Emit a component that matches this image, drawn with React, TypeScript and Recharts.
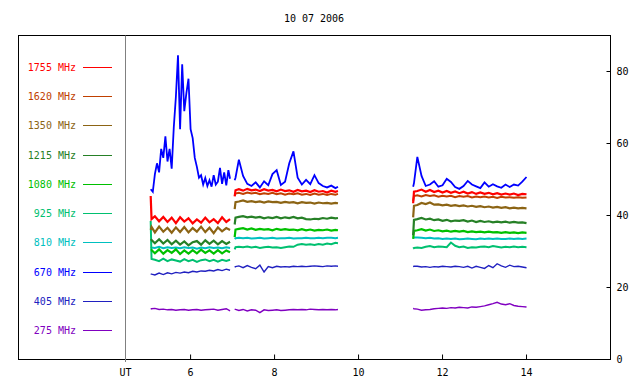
import React from 'react';
import { LineChart, Line, XAxis, YAxis, Legend } from 'recharts';

const TITLE = '10 07 2006';
const NAMES = ['1755 MHz', '1620 MHz', '1350 MHz', '1215 MHz', '1080 MHz', '925 MHz', '810 MHz', '670 MHz', '405 MHz', '275 MHz'];
const COLORS = ['#ff0000', '#c04000', '#8c6414', '#268026', '#00c000', '#00c070', '#00c0c0', '#0000ff', '#2020c0', '#8000c0'];
const X_TICKS = [4.45, 6, 8, 10, 12, 14];
const X_TICK_LABELS = ['UT', '6', '8', '10', '12', '14'];
const TOP_TICKS = [6, 8, 10, 12, 14];
const Y_TICKS = [0, 20, 40, 60, 80];

// time grids (UT hours)
const T1 = [5.05, 5.07, 5.15, 5.25, 5.35, 5.45, 5.55, 5.65, 5.75, 5.85, 5.95, 6.05, 6.15, 6.25, 6.35, 6.45, 6.55, 6.65, 6.75, 6.85, 6.94];
const T2 = [7.05, 7.07, 7.15, 7.25, 7.35, 7.45, 7.55, 7.65, 7.75, 7.85, 7.95, 8.05, 8.15, 8.25, 8.35, 8.45, 8.55, 8.65, 8.75, 8.85, 8.95, 9.05, 9.15, 9.25, 9.35, 9.45, 9.51];
const T3 = [11.3, 11.32, 11.4, 11.5, 11.6, 11.7, 11.8, 11.9, 12.0, 12.1, 12.2, 12.3, 12.4, 12.5, 12.6, 12.7, 12.8, 12.9, 13.0, 13.1, 13.2, 13.3, 13.4, 13.5, 13.6, 13.7, 13.8, 13.9, 14.0];
const BT1 = [5.05, 5.1, 5.15, 5.2, 5.25, 5.3, 5.35, 5.4, 5.45, 5.5, 5.55, 5.6, 5.65, 5.7, 5.75, 5.8, 5.85, 5.9, 5.95, 6.0, 6.05, 6.1, 6.15, 6.2, 6.25, 6.3, 6.35, 6.4, 6.45, 6.5, 6.55, 6.6, 6.65, 6.7, 6.75, 6.8, 6.85, 6.9, 6.94];

// 1755 MHz
const F1755_1 = [45.4, 39.0, 39.8, 38.4, 39.6, 38.2, 39.4, 37.9, 39.5, 38.3, 39.2, 37.8, 38.9, 38.0, 39.4, 38.1, 39.0, 37.9, 39.5, 38.2, 39.0];
const F1755_2 = [45.3, 47.0, 47.3, 46.9, 47.4, 47.0, 47.2, 46.8, 47.3, 46.9, 47.1, 46.7, 47.2, 46.8, 47.0, 46.6, 47.1, 46.7, 46.9, 46.5, 47.0, 46.6, 46.8, 46.4, 46.9, 46.6, 46.8];
const F1755_3 = [43.4, 46.6, 46.8, 47.2, 46.6, 47.1, 46.5, 46.9, 46.4, 46.8, 46.3, 46.7, 46.2, 46.6, 46.1, 46.5, 46.0, 46.4, 46.0, 46.3, 45.9, 46.2, 45.8, 46.1, 45.8, 46.1, 45.7, 46.0, 45.9];
// 1620 MHz
const F1620_2 = [45.5, 46.1, 46.3, 46.0, 46.4, 46.1, 46.3, 45.9, 46.2, 46.0, 46.3, 45.9, 46.2, 45.8, 46.1, 45.9, 46.2, 45.8, 46.0, 45.7, 46.1, 45.8, 46.0, 45.7, 46.0, 45.8, 46.0];
const F1620_3 = [44.0, 45.4, 45.6, 45.3, 45.7, 45.4, 45.6, 45.2, 45.5, 45.3, 45.5, 45.1, 45.4, 45.2, 45.4, 45.0, 45.3, 45.1, 45.3, 45.0, 45.2, 44.9, 45.2, 45.0, 45.1, 44.9, 45.1, 44.9, 45.0];
// 1350 MHz
const F1350_1 = [36.0, 36.8, 35.3, 36.9, 35.5, 36.6, 35.2, 36.7, 35.4, 36.8, 35.3, 36.5, 35.5, 36.9, 35.4, 36.6, 35.1, 36.7, 35.6, 36.5, 36.0];
const F1350_2 = [41.8, 43.7, 43.9, 44.2, 43.8, 44.0, 43.7, 43.9, 43.6, 43.9, 43.7, 43.8, 43.5, 43.8, 43.6, 43.7, 43.4, 43.7, 43.5, 43.6, 43.3, 43.6, 43.4, 43.5, 43.3, 43.5, 43.4];
const F1350_3 = [39.5, 42.7, 42.9, 43.5, 43.2, 43.6, 43.0, 43.1, 42.8, 43.0, 42.7, 42.9, 42.6, 42.8, 42.5, 42.7, 42.4, 42.6, 42.3, 42.5, 42.2, 42.4, 42.1, 42.3, 42.0, 42.2, 42.0, 42.1, 42.0];
// 1215 MHz
const F1215_1 = [33.0, 33.2, 32.3, 33.4, 32.2, 33.2, 32.0, 33.0, 31.9, 32.8, 31.7, 32.6, 32.9, 31.9, 33.1, 32.1, 33.0, 32.0, 32.9, 32.1, 32.7];
const F1215_2 = [37.5, 39.4, 39.6, 39.8, 39.5, 39.7, 39.4, 39.6, 39.2, 39.5, 39.3, 39.6, 39.2, 39.5, 39.3, 39.6, 39.2, 39.4, 39.0, 38.9, 39.1, 39.0, 39.3, 39.1, 39.4, 39.2, 39.3];
const F1215_3 = [34.5, 38.8, 39.0, 39.3, 38.9, 39.1, 38.7, 38.9, 38.5, 38.8, 38.4, 38.6, 38.5, 38.7, 38.3, 38.6, 38.2, 38.5, 38.2, 38.4, 38.1, 38.3, 38.1, 38.3, 38.0, 38.2, 38.0, 38.1, 37.9];
// 1080 MHz
const F1080_1 = [30.4, 30.4, 29.5, 30.6, 29.4, 30.4, 29.6, 30.6, 29.3, 30.3, 29.4, 30.4, 29.5, 30.5, 29.6, 30.3, 29.4, 30.4, 29.5, 30.3, 29.8];
const F1080_2 = [34.0, 36.1, 36.3, 36.5, 36.1, 36.4, 36.0, 36.3, 36.1, 36.2, 35.9, 36.3, 36.0, 36.2, 36.0, 36.1, 35.9, 36.2, 35.9, 36.1, 35.8, 36.0, 35.9, 36.1, 35.8, 36.0, 35.9];
const F1080_3 = [33.5, 35.7, 35.9, 36.2, 35.8, 36.1, 35.7, 35.9, 35.6, 35.8, 35.5, 35.7, 35.5, 35.7, 35.4, 35.6, 35.4, 35.5, 35.3, 35.5, 35.3, 35.4, 35.2, 35.4, 35.2, 35.3, 35.1, 35.3, 35.2];
// 925 MHz
const F925_1 = [38.5, 27.9, 27.7, 27.3, 28.0, 27.3, 27.8, 27.5, 27.2, 27.9, 27.3, 27.7, 27.1, 27.6, 27.8, 27.3, 27.7, 27.2, 27.7, 27.4, 27.7];
const F925_2 = [30.6, 31.2, 31.3, 31.2, 31.4, 31.1, 31.3, 31.0, 31.2, 31.3, 31.1, 31.2, 31.0, 31.2, 31.4, 31.3, 31.9, 32.1, 31.9, 32.0, 31.8, 32.1, 31.9, 32.2, 32.0, 32.4, 32.3];
const F925_3 = [30.8, 31.0, 31.1, 31.0, 31.3, 31.5, 31.2, 31.4, 31.3, 31.2, 32.5, 31.6, 31.2, 31.4, 31.0, 31.2, 31.1, 31.3, 31.4, 31.2, 31.5, 31.3, 31.1, 31.3, 31.2, 31.4, 31.2, 31.3, 31.2];
// 810 MHz
const F810_1 = [31.2, 31.1, 31.0, 31.3, 30.9, 31.2, 31.0, 31.1, 30.9, 31.2, 31.0, 31.1, 30.8, 31.1, 30.9, 31.2, 31.0, 31.1, 30.9, 31.2, 31.0];
const F810_2 = [33.5, 33.7, 33.8, 33.7, 33.8, 33.6, 33.7, 33.8, 33.6, 33.7, 33.8, 33.6, 33.7, 33.7, 33.8, 33.6, 33.7, 33.7, 33.8, 33.7, 33.7, 33.8, 33.7, 33.8, 33.8, 33.7, 33.8];
const F810_3 = [34.0, 33.9, 33.9, 33.8, 33.7, 33.8, 33.6, 33.7, 33.5, 33.6, 33.5, 33.6, 33.4, 33.5, 33.6, 33.5, 33.4, 33.6, 33.5, 33.6, 33.5, 33.6, 33.5, 33.5, 33.6, 33.5, 33.6, 33.5, 33.6];
// 670 MHz
const F670_1 = [47.3, 46.6, 51.5, 54.5, 52.0, 58.5, 56.0, 62.0, 55.0, 58.5, 53.0, 64.5, 73.0, 84.5, 64.0, 82.0, 69.0, 74.0, 78.0, 64.0, 61.5, 56.0, 53.5, 50.5, 51.2, 48.6, 50.4, 48.2, 49.8, 48.0, 51.2, 48.6, 49.4, 53.2, 48.8, 52.0, 48.4, 52.6, 50.2];
const F670_2 = [49.8, 50.5, 55.5, 51.0, 48.8, 48.2, 49.2, 47.8, 49.5, 48.4, 51.5, 52.6, 48.5, 49.4, 54.5, 57.8, 50.5, 48.6, 49.9, 48.7, 51.2, 49.0, 48.2, 47.8, 48.3, 47.6, 48.0];
const F670_3 = [48.0, 49.0, 56.3, 51.0, 48.2, 48.6, 49.5, 48.0, 48.4, 50.2, 49.3, 47.9, 47.4, 48.2, 49.6, 48.6, 48.1, 47.6, 49.2, 48.0, 48.7, 48.1, 47.7, 48.6, 47.9, 48.6, 48.3, 49.4, 50.7];
// 405 MHz
const F405_1 = [23.8, 23.7, 23.5, 24.0, 23.6, 24.1, 23.8, 24.2, 24.0, 24.3, 24.1, 24.5, 24.3, 24.6, 24.5, 24.8, 24.6, 25.0, 24.7, 25.1, 24.8];
const F405_2 = [25.6, 25.8, 26.0, 25.5, 26.1, 25.6, 25.2, 26.2, 24.3, 25.8, 25.5, 25.9, 25.7, 25.8, 25.7, 25.9, 25.8, 25.9, 25.8, 25.9, 26.0, 25.9, 25.8, 26.0, 25.9, 26.0, 25.9];
const F405_3 = [25.8, 25.9, 25.9, 25.7, 25.8, 25.6, 25.8, 25.7, 25.9, 25.8, 25.7, 25.9, 25.8, 25.6, 25.9, 25.4, 25.9, 25.6, 25.3, 26.1, 25.5, 26.6, 26.0, 25.6, 26.2, 25.8, 25.9, 25.7, 25.5];
// 275 MHz
const F275_1 = [14.0, 14.1, 14.2, 13.9, 14.0, 13.8, 13.9, 13.7, 13.8, 13.9, 13.7, 13.8, 13.9, 13.7, 13.8, 13.9, 14.0, 13.7, 13.9, 14.1, 13.5];
const F275_2 = [14.0, 13.9, 13.6, 13.9, 13.5, 13.8, 13.7, 13.0, 13.8, 13.6, 13.7, 13.8, 13.6, 13.7, 13.8, 13.9, 13.8, 13.9, 13.8, 14.0, 13.9, 13.8, 13.9, 13.8, 13.9, 13.8, 13.9];
const F275_3 = [14.2, 14.1, 14.0, 13.7, 13.8, 13.9, 14.1, 14.2, 14.3, 14.2, 14.4, 14.3, 14.5, 14.4, 14.3, 14.6, 14.5, 14.7, 14.9, 15.2, 15.5, 15.9, 15.4, 15.2, 15.5, 15.0, 14.8, 14.7, 14.6];

type Seg = [number[], number[]];
function build(segs: Seg[]) {
  const out: { t: number; v: number | null }[] = [];
  segs.forEach(([ts, vs], k) => {
    if (k > 0) {
      const prev = segs[k - 1][0];
      out.push({ t: (prev[prev.length - 1] + ts[0]) / 2, v: null });
    }
    const n = Math.min(ts.length, vs.length);
    for (let i = 0; i < n; i++) out.push({ t: ts[i], v: vs[i] });
  });
  return out;
}

const SERIES = [
  { segs: [[T1, F1755_1], [T2, F1755_2], [T3, F1755_3]] as Seg[], w: 2.2 },
  { segs: [[T2, F1620_2], [T3, F1620_3]] as Seg[], w: 2 },
  { segs: [[T1, F1350_1], [T2, F1350_2], [T3, F1350_3]] as Seg[], w: 2.2 },
  { segs: [[T1, F1215_1], [T2, F1215_2], [T3, F1215_3]] as Seg[], w: 2.2 },
  { segs: [[T1, F1080_1], [T2, F1080_2], [T3, F1080_3]] as Seg[], w: 2.2 },
  { segs: [[T1, F925_1], [T2, F925_2], [T3, F925_3]] as Seg[], w: 2 },
  { segs: [[T1, F810_1], [T2, F810_2], [T3, F810_3]] as Seg[], w: 2 },
  { segs: [[BT1, F670_1], [T2, F670_2], [T3, F670_3]] as Seg[], w: 1.8 },
  { segs: [[T1, F405_1], [T2, F405_2], [T3, F405_3]] as Seg[], w: 1.4 },
  { segs: [[T1, F275_1], [T2, F275_2], [T3, F275_3]] as Seg[], w: 1.4 },
];

const FONT = 'DejaVu Sans Mono, Liberation Mono, monospace';

const renderLegend = (props: any) => {
  const payload: any[] = props.payload || [];
  const items = NAMES.map((n) => payload.find((p: any) => p.value === n)).filter(Boolean);
  return (
    <svg width={125} height={384} style={{ display: 'block' }}>
      {items.map((p: any, i: number) => {
        const y = Math.floor(67.3 + i * 29.25) + 0.5;
        return (
          <g key={p.value}>
            <text x={76} y={y + 3.5} textAnchor="end" fill={p.color} fontSize={10} fontFamily={FONT}>
              {p.value}
            </text>
            <line x1={83} x2={112} y1={y} y2={y} stroke={p.color} strokeWidth={1} />
          </g>
        );
      })}
    </svg>
  );
};

const fmtX = (v: number) => {
  const i = X_TICKS.indexOf(v);
  return i >= 0 ? X_TICK_LABELS[i] : String(v);
};

export default function App() {
  const order = SERIES.map((s, i) => i).reverse();
  return (
    <div style={{ position: 'absolute', left: 0, top: 0, width: 640, height: 384, background: '#fff' }}>
      <LineChart width={640} height={384} margin={{ top: 35.5, right: 0, bottom: 0, left: 125.5 }}>
        <XAxis
          xAxisId="b"
          dataKey="t"
          type="number"
          orientation="bottom"
          domain={[4.45, 16]}
          allowDataOverflow
          ticks={X_TICKS}
          interval={0}
          tickFormatter={fmtX}
          height={24.5}
          axisLine={false}
          tickSize={-5}
          tickMargin={14}
          tickLine={{ stroke: '#000' }}
          tick={{ fontSize: 10, fontFamily: FONT, fill: '#000' }}
        />
        <XAxis
          xAxisId="t"
          dataKey="t"
          type="number"
          orientation="top"
          domain={[4.45, 16]}
          allowDataOverflow
          ticks={TOP_TICKS}
          interval={0}
          height={0}
          axisLine={false}
          tickSize={-5}
          tickLine={{ stroke: '#000' }}
          tick={false}
        />
        <YAxis
          yAxisId="r"
          orientation="right"
          domain={[0, 90]}
          allowDataOverflow
          ticks={Y_TICKS}
          interval={0}
          width={29.5}
          axisLine={false}
          tickSize={-4}
          tickMargin={10}
          tickLine={{ stroke: '#000' }}
          tick={{ fontSize: 10, fontFamily: FONT, fill: '#000' }}
        />
        <Legend
          layout="vertical"
          align="center"
          verticalAlign="middle"
          wrapperStyle={{ left: 0, top: 0, width: 125, height: 384, margin: 0, padding: 0 }}
          content={renderLegend}
        />
        {order.map((i) => (
          <Line
            key={NAMES[i]}
            name={NAMES[i]}
            data={build(SERIES[i].segs)}
            dataKey="v"
            xAxisId="b"
            yAxisId="r"
            type="linear"
            stroke={COLORS[i]}
            strokeWidth={SERIES[i].w}
            strokeLinejoin="miter"
            dot={false}
            activeDot={false}
            isAnimationActive={false}
            connectNulls={false}
          />
        ))}
      </LineChart>
      <svg
        width={640}
        height={384}
        style={{ position: 'absolute', left: 0, top: 0, pointerEvents: 'none' }}
      >
        <text x={314} y={22} textAnchor="middle" fontSize={10} fontFamily={FONT} fill="#000">
          {TITLE}
        </text>
        <rect x={18.5} y={35.5} width={592} height={324} fill="none" stroke="#000" strokeWidth={1} />
        <line x1={125.5} x2={125.5} y1={35.5} y2={362} stroke="#808080" strokeWidth={1} />
      </svg>
    </div>
  );
}
